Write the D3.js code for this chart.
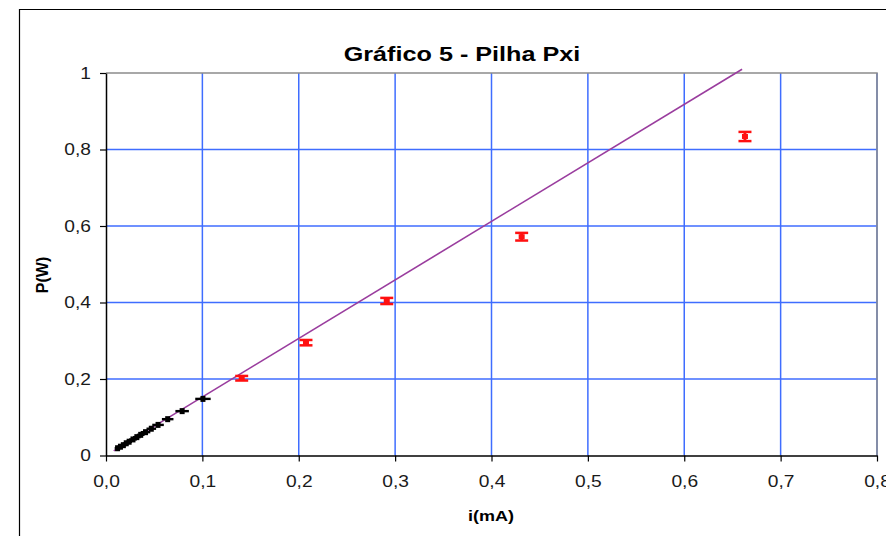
<!DOCTYPE html>
<html>
<head>
<meta charset="utf-8">
<script src="https://cdn.jsdelivr.net/npm/d3@7"></script>
<style>
  html, body { margin: 0; padding: 0; background: #fff; }
  svg { display: block; font-family: "Liberation Sans", Arial, sans-serif; }
</style>
</head>
<body>
<svg id="chart" width="886" height="536"></svg>
<script>
// Pilha Pxi: power P (W) against current i (mA)
const lowCurrentI = [0.012, 0.015, 0.018, 0.021, 0.024, 0.028, 0.032, 0.036, 0.041, 0.047, 0.054, 0.064, 0.079, 0.1006];
const lowCurrentP = [0.019, 0.023, 0.027, 0.032, 0.036, 0.042, 0.048, 0.054, 0.061, 0.070, 0.080, 0.095, 0.116, 0.148];
const lowCurrentIErr = [0.003, 0.003, 0.003, 0.003, 0.003, 0.004, 0.004, 0.004, 0.005, 0.005, 0.006, 0.006, 0.007, 0.008];

const highCurrentI = [0.1408, 0.2075, 0.2913, 0.4313, 0.663];
const highCurrentP = [0.202, 0.295, 0.404, 0.572, 0.834];
const highCurrentPErr = [0.006, 0.007, 0.008, 0.010, 0.012];

// linear trend line endpoints
const trendI = [0.008, 0.66];
const trendP = [0.0122, 1.0098];

const xTickValues = [0, 0.1, 0.2, 0.3, 0.4, 0.5, 0.6, 0.7, 0.8];
const xTickLabels = ["0,0", "0,1", "0,2", "0,3", "0,4", "0,5", "0,6", "0,7", "0,8"];
const yTickValues = [0, 0.2, 0.4, 0.6, 0.8, 1];
const yTickLabels = ["0", "0,2", "0,4", "0,6", "0,8", "1"];

const svg = d3.select("#chart");
const stretch = 1.2;

const x = d3.scaleLinear().domain([0, 0.8]).range([106, 877]);
const y = d3.scaleLinear().domain([0, 1]).range([455.5, 73]);

// outer chart frame
svg.append("path")
  .attr("d", "M19.5,536 V9.5 H886")
  .attr("fill", "none").attr("stroke", "#000").attr("stroke-width", 1.2);

// grid
const gridColor = "#3f6dff";
svg.append("g").selectAll("line").data(xTickValues.slice(1)).join("line")
  .attr("x1", d => x(d)).attr("x2", d => x(d))
  .attr("y1", y(1)).attr("y2", y(0))
  .attr("stroke", gridColor).attr("stroke-width", 1.5);
svg.append("g").selectAll("line").data(yTickValues.slice(1, -1)).join("line")
  .attr("x1", x(0)).attr("x2", x(0.8))
  .attr("y1", d => y(d)).attr("y2", d => y(d))
  .attr("stroke", gridColor).attr("stroke-width", 1.5);

// plot area border (top / right)
svg.append("path")
  .attr("d", `M${x(0)},${y(1)} H${x(0.8)} V${y(0)}`)
  .attr("fill", "none").attr("stroke", "#8c8c8c").attr("stroke-width", 1.5);

// axes
const xAxis = svg.append("g")
  .attr("transform", `translate(0,${y(0)})`)
  .call(d3.axisBottom(x).tickValues(xTickValues).tickFormat((d, i) => xTickLabels[i]).tickSize(6).tickSizeOuter(0));
const yAxis = svg.append("g")
  .attr("transform", `translate(${x(0)},0)`)
  .call(d3.axisLeft(y).tickValues(yTickValues).tickFormat((d, i) => yTickLabels[i]).tickSize(6).tickSizeOuter(0));

[xAxis, yAxis].forEach(g => {
  g.select(".domain").attr("stroke", "#000").attr("stroke-width", 1.5);
  g.selectAll(".tick line").attr("stroke", "#000").attr("stroke-width", 1.2);
  g.selectAll(".tick text")
    .attr("fill", "#1a1a1a")
    .attr("font-size", 16)
    .attr("font-family", "Liberation Sans, Arial, sans-serif");
});
xAxis.selectAll(".tick text").attr("y", 20).attr("dy", "0.71em")
  .attr("transform", `scale(${stretch},1)`);
yAxis.selectAll(".tick text").attr("x", -15 / stretch)
  .attr("transform", `scale(${stretch},1)`);

// trend line
svg.append("path")
  .datum(trendI.map((v, i) => [v, trendP[i]]))
  .attr("d", d3.line().x(d => x(d[0])).y(d => y(d[1])))
  .attr("fill", "none").attr("stroke", "#9a3d9e").attr("stroke-width", 1.6);

// low-current points with horizontal error bars
const low = lowCurrentI.map((v, i) => ({ i: v, p: lowCurrentP[i], e: lowCurrentIErr[i] }));
const lowG = svg.append("g").selectAll("g").data(low).join("g");
lowG.append("line")
  .attr("x1", d => x(d.i - d.e)).attr("x2", d => x(d.i + d.e))
  .attr("y1", d => y(d.p)).attr("y2", d => y(d.p))
  .attr("stroke", "#000").attr("stroke-width", 2.4);
lowG.append("rect")
  .attr("x", d => x(d.i) - 2.5).attr("y", d => y(d.p) - 3)
  .attr("width", 5).attr("height", 6).attr("fill", "#000");

// high-current points with vertical error bars
const high = highCurrentI.map((v, i) => ({ i: v, p: highCurrentP[i], e: highCurrentPErr[i] }));
const highG = svg.append("g").selectAll("g").data(high).join("g");
const red = "#ff1010";
highG.append("line")
  .attr("x1", d => x(d.i)).attr("x2", d => x(d.i))
  .attr("y1", d => y(d.p - d.e)).attr("y2", d => y(d.p + d.e))
  .attr("stroke", red).attr("stroke-width", 3);
highG.selectAll(".cap").data(d => [[d.i, d.p - d.e], [d.i, d.p + d.e]]).join("line")
  .attr("x1", d => x(d[0]) - 6.5).attr("x2", d => x(d[0]) + 6.5)
  .attr("y1", d => y(d[1])).attr("y2", d => y(d[1]))
  .attr("stroke", red).attr("stroke-width", 2.5);
highG.append("rect")
  .attr("x", d => x(d.i) - 3).attr("y", d => y(d.p) - 2.5)
  .attr("width", 6).attr("height", 5).attr("fill", red);

// titles
function stretchedText(tx, ty, txt, size) {
  return svg.append("text")
    .attr("transform", `translate(${tx},${ty}) scale(${stretch},1)`)
    .attr("text-anchor", "middle")
    .attr("font-weight", "bold")
    .attr("font-size", size)
    .attr("fill", "#000")
    .text(txt);
}
stretchedText(462, 61, "Gráfico 5 - Pilha Pxi", 21);
stretchedText(491, 521, "i(mA)", 15);
svg.append("text")
  .attr("transform", "translate(48,275) rotate(-90)")
  .attr("text-anchor", "middle")
  .attr("font-weight", "bold")
  .attr("font-size", 16)
  .text("P(W)");
</script>
